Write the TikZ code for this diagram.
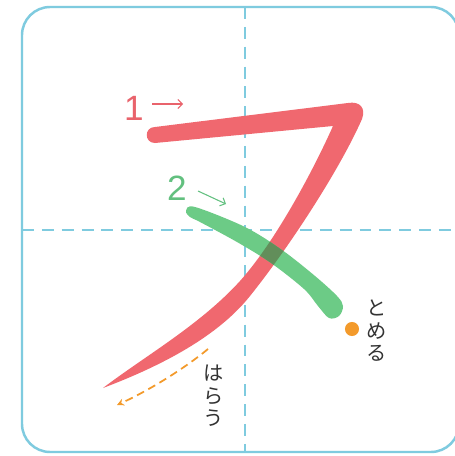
\documentclass[tikz,border=0pt]{standalone}
\usepackage{fontspec}
\setmainfont{Liberation Sans}
\newfontfamily\jpfont{Noto Sans CJK JP}
\usetikzlibrary{arrows.meta, positioning}

\definecolor{guideblue}{HTML}{7FCBDF}
\definecolor{strokered}{HTML}{F0686F}
\definecolor{strokegreen}{HTML}{6CCB86}
\definecolor{overlapgreen}{HTML}{628E5A}
\definecolor{hintorange}{HTML}{F39A2B}
\definecolor{labelred}{HTML}{E9636C}
\definecolor{labelgreen}{HTML}{62C07F}

\tikzset{
  frame/.style={guideblue, line width=1.4pt, rounded corners=16pt},
  guide/.style={guideblue, line width=0.85pt, dash pattern=on 6.8pt off 4.5pt},
  stroketext/.style={font=\fontsize{20}{20}\selectfont, inner sep=0pt},
  tinyarrow/.style={line width=0.6pt, -{Straight Barb[length=2.5pt, width=5pt]}},
  hinttext/.style={font=\jpfont\fontsize{11.5}{12.8}\selectfont, align=center, text=black!80, inner sep=0pt},
  sweep/.style={hintorange, line width=1pt, dash pattern=on 4.5pt off 2.8pt, -{Stealth[length=4pt, width=4pt]}},
}

\begin{document}
\begin{tikzpicture}[x=0.02cm, y=-0.02cm]
    \useasboundingbox[fill=white] (0,0) rectangle (454,456);

    \draw[guide] (245,7) -- (245,452);
    \draw[guide] (22,230) -- (454,230);
    \draw[frame] (22,7) rectangle (459,452);

    \path[save path=\redpath] (155,127) -- (348,103) .. controls (360,101) and (366,108) .. (362,119)
      .. controls (340,169) and (290,246) .. (250,296)
      .. controls (215,340) and (153,369) .. (103,388)
      .. controls (145,356) and (200,325) .. (240,281)
      .. controls (275,242) and (313,171) .. (333,126)
      -- (155,143) .. controls (144,143) and (144,127) .. (155,127) -- cycle;
    \path[save path=\greenpath] plot[smooth cycle, tension=0.55] coordinates {(186,211) (195,207) (245,227) (282,250) (315,276) (337,296) (343,306) (339,316) (329,318) (318,306) (304,289) (271,263) (237,242) (200,222) (190,217)};

    \fill[strokered, use path=\redpath];
    \fill[strokegreen, use path=\greenpath];
    \begin{scope}
      \clip[use path=\redpath];
      \fill[overlapgreen, use path=\greenpath];
    \end{scope}

    \node[stroketext, text=labelred] (one) at (134,108) {1};
    \coordinate (onefrom) at (152,104);
    \coordinate (oneto) at (183,104);
    \draw[tinyarrow, labelred] (onefrom) -- (oneto);

    \node[stroketext, text=labelgreen] (two) at (177,188) {2};
    \coordinate (twofrom) at (198,191);
    \coordinate (twoto) at (226,204);
    \draw[tinyarrow, labelgreen] (twofrom) -- (twoto);

    \node[circle, fill=hintorange, minimum size=8pt, inner sep=0pt] (stopdot) at (352,329) {};
    \node[hinttext] (stop) at (377,331) {と\\め\\る};

    \coordinate (sweepstart) at (208,349);
    \coordinate (sweepend) at (117,405);
    \draw[sweep] (sweepstart) .. controls (185,368) and (150,390) .. (sweepend);
    \node[hinttext] (release) at (214,396) {は\\ら\\う};
  \end{tikzpicture}
\end{document}
